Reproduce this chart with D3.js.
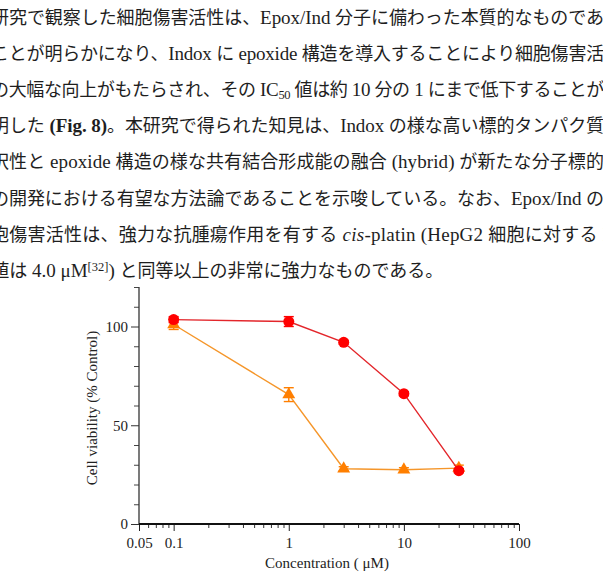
<!DOCTYPE html>
<html>
<head>
<meta charset="utf-8">
<style>
  body { margin: 0; background: #fff; }
  svg { display: block; }
  .body-text { font-family: "Liberation Serif", "Noto Sans CJK JP", serif; font-size: 18px; fill: #1e1e1e; font-weight: 400; }
  .cjk { font-family: "Noto Sans CJK JP", sans-serif; font-size: 18px; }
  .latin { font-family: "Liberation Serif", serif; font-size: 19px; font-weight: 400; }
  .latin.bold { font-weight: 700; }
  .tick text { font-family: "Liberation Serif", serif; font-size: 15px; fill: #222; }
  .axis-label { font-family: "Liberation Serif", serif; font-size: 15px; fill: #222; }
</style>
</head>
<body>
<svg id="page" width="603" height="576"></svg>
<script src="https://d3js.org/d3.v7.min.js"></script>
<script>
// paragraph text, one entry per printed line ([text, style])
var textLines = [
  [["研究で観察した細胞傷害活性は、Epox/Ind 分子に備わった本質的なものである"]],
  [["ことが明らかになり、Indox に epoxide 構造を導入することにより細胞傷害活性"]],
  [["の大幅な向上がもたらされ、その IC"], ["50", "sub"], [" 値は約 10 分の 1 にまで低下することが判"]],
  [["明した "], ["(Fig. 8)", "b"], ["。本研究で得られた知見は、Indox の様な高い標的タンパク質選"]],
  [["択性と epoxide 構造の様な共有結合形成能の融合 (hybrid) が新たな分子標的薬"]],
  [["の開発における有望な方法論であることを示唆している。なお、Epox/Ind の細"]],
  [["胞傷害活性は、強力な抗腫瘍作用を有する "], ["cis", "i"], ["-platin (HepG2 細胞に対する IC"]],
  [["50", "sub"], [" 値は 4.0 μM"], ["[32]", "sup"], [") と同等以上の非常に強力なものである。"]]
];

// chart data
var concentrations = [0.1, 1, 3, 10, 30];          // µM
var indoxViability = [103.5, 102.5, 92, 66, 27];    // red circles
var indoxErr       = [1.5, 2.5, 1, 1, 1];
var epoxViability  = [101, 65.5, 28, 27.5, 28.3];   // orange triangles
var epoxErr        = [2.5, 3.5, 1, 1, 1.5];

var xMajorTicks = [0.05, 0.1, 1, 10, 100];
var xTickLabels = ["0.05", "0.1", "1", "10", "100"];
var yMajorTicks = [0, 50, 100];

var svg = d3.select("#page");
svg.append("rect").attr("width", 603).attr("height", 576).attr("fill", "#fff");

// ---- paragraph ----
var lineTop = 24, lineStep = 36.1, colLeft = -9, colWidth = 631;
var cjkRe = /([\u3000-\u30ff\u4e00-\u9fff\uff00-\uffef]+)/;
textLines.forEach(function(segs, i) {
  var t = svg.append("text")
    .attr("class", "body-text")
    .attr("x", i === 7 ? colLeft - 17 : colLeft)
    .attr("y", lineTop + i * lineStep);
  segs.forEach(function(s) {
    if (s[1] === "sub" || s[1] === "sup") {
      t.append("tspan").attr("class", "latin").text(s[0])
        .style("font-size", "12.5px")
        .attr("baseline-shift", s[1] === "sub" ? "-3" : "6");
      return;
    }
    s[0].split(cjkRe).forEach(function(run) {
      if (!run) return;
      var isCjk = cjkRe.test(run);
      var ts = t.append("tspan").attr("class", isCjk ? "cjk" : "latin").text(run);
      if (s[1] === "b") ts.classed("bold", true);
      if (s[1] === "i") ts.style("font-style", "italic");
    });
  });
  if (i < textLines.length - 1) {
    t.attr("textLength", colWidth).attr("lengthAdjust", "spacing");
  }
});

// ---- chart ----
var x = d3.scaleLog().domain([0.05, 100]).range([139, 519]);
var y = d3.scaleLinear().domain([0, 120]).range([524, 287]);

var xMinor = [];
[0.01, 0.1, 1, 10].forEach(function(d) {
  for (var k = 2; k <= 9; k++) {
    var v = +(d * k).toPrecision(3);
    if (v > 0.05 && v < 100) xMinor.push(v);
  }
});
var yMinor = d3.range(0, 121, 10).filter(function(v) { return yMajorTicks.indexOf(v) < 0; });

// y axis
svg.append("g")
  .attr("transform", "translate(139,0)")
  .call(d3.axisLeft(y).tickValues(yMinor).tickSize(5).tickFormat(""))
  .call(function(g) { g.select(".domain").remove(); g.selectAll("line").attr("stroke", "#444"); });
svg.append("g")
  .attr("transform", "translate(139,0)")
  .call(d3.axisLeft(y).tickValues(yMajorTicks).tickSize(8).tickPadding(3))
  .call(function(g) { g.select(".domain").remove(); g.selectAll("line").attr("stroke", "#333"); });
svg.append("line")
  .attr("x1", 139).attr("x2", 139).attr("y1", y(120)).attr("y2", y(0))
  .attr("stroke", "#333").attr("stroke-width", 1.3);

// x axis
svg.append("g")
  .attr("transform", "translate(0,524)")
  .call(d3.axisBottom(x).tickValues(xMinor).tickSize(4).tickFormat(""))
  .call(function(g) { g.select(".domain").remove(); g.selectAll("line").attr("stroke", "#333"); });
svg.append("g")
  .attr("transform", "translate(0,524)")
  .call(d3.axisBottom(x).tickValues(xMajorTicks).tickSize(7).tickPadding(6)
    .tickFormat(function(d, i) { return xTickLabels[i]; }))
  .call(function(g) { g.select(".domain").remove(); g.selectAll("line").attr("stroke", "#222"); });
svg.append("line")
  .attr("x1", x(0.05)).attr("x2", x(100)).attr("y1", 524).attr("y2", 524)
  .attr("stroke", "#111").attr("stroke-width", 2);

svg.append("text").attr("class", "axis-label")
  .attr("text-anchor", "middle")
  .attr("x", 327).attr("y", 568)
  .text("Concentration ( μM)");
svg.append("text").attr("class", "axis-label")
  .attr("text-anchor", "middle")
  .attr("transform", "translate(97,408) rotate(-90)")
  .text("Cell viability (% Control)");

// series
function drawSeries(vals, errs, lineColor, fill, shape) {
  var pts = concentrations.map(function(c, i) { return {c: c, v: vals[i], e: errs[i]}; });
  var g = svg.append("g");
  g.append("path").datum(pts)
    .attr("fill", "none").attr("stroke", lineColor).attr("stroke-width", 1.4)
    .attr("d", d3.line().x(function(d) { return x(d.c); }).y(function(d) { return y(d.v); }));
  var eb = g.selectAll(".eb").data(pts).enter().append("g").attr("stroke", fill).attr("stroke-width", 1.4);
  eb.append("line")
    .attr("x1", function(d) { return x(d.c); }).attr("x2", function(d) { return x(d.c); })
    .attr("y1", function(d) { return y(d.v + d.e); }).attr("y2", function(d) { return y(d.v - d.e); });
  [1, -1].forEach(function(s) {
    eb.append("line")
      .attr("x1", function(d) { return x(d.c) - 5; }).attr("x2", function(d) { return x(d.c) + 5; })
      .attr("y1", function(d) { return y(d.v + s * d.e); }).attr("y2", function(d) { return y(d.v + s * d.e); });
  });
  g.selectAll(".mk").data(pts).enter().append("path")
    .attr("fill", fill)
    .attr("transform", function(d) { return "translate(" + x(d.c) + "," + y(d.v) + ")"; })
    .attr("d", d3.symbol().type(shape).size(shape === d3.symbolCircle ? 95 : 72));
}

drawSeries(epoxViability, epoxErr, "#f5962a", "#ff7f00", d3.symbolTriangle);
drawSeries(indoxViability, indoxErr, "#e3262b", "#ff0000", d3.symbolCircle);
</script>
</body>
</html>
